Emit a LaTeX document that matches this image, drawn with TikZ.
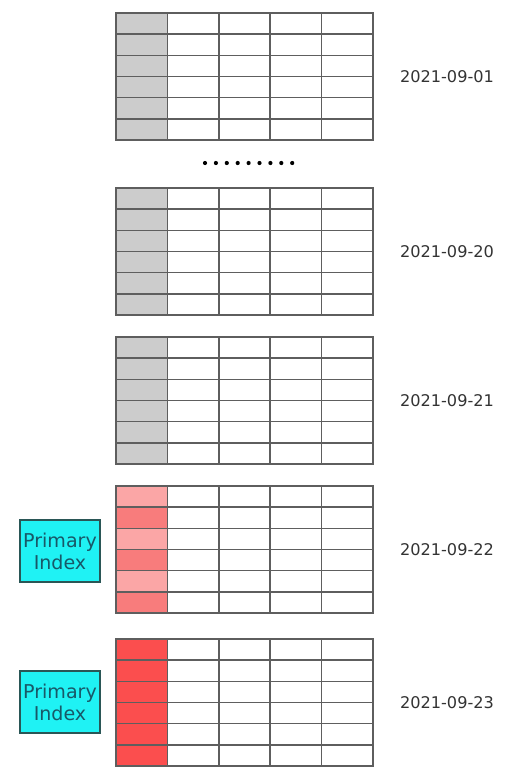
\documentclass[tikz,border=0pt]{standalone}
\usepackage{fontspec}
\setmainfont{DejaVu Sans}
\usepackage{xcolor}
\usetikzlibrary{positioning}
\definecolor{keygray}{HTML}{CCCCCC}
\definecolor{keypinkA}{HTML}{FBA6A6}
\definecolor{keypinkB}{HTML}{F87C7C}
\definecolor{keyred}{HTML}{FB4E4E}
\definecolor{gridgray}{HTML}{5E5E5E}
\definecolor{dategray}{HTML}{333333}
\definecolor{indexcyan}{HTML}{1FF2F4}
\definecolor{indexedge}{HTML}{2A5656}
\definecolor{indextext}{HTML}{185868}
\tikzset{
  cellline/.style={draw=gridgray, line width=1.1pt},
  datelabel/.style={font={\fontsize{12.1pt}{14pt}\selectfont}, text=dategray},
  indexbox/.style={draw=indexedge, fill=indexcyan, line width=1.3pt,
    minimum width=60pt, minimum height=46.5pt, inner sep=0pt, align=center,
    text=indextext, font={\fontsize{14.3pt}{16.5pt}\selectfont}}
}

\begin{document}
\begin{tikzpicture}[x=0.75pt,y=-0.75pt,
partition/.pic={\draw[cellline] (0,0) rectangle (257,127);
\foreach \c in {1,...,4} \draw[cellline] (\c*51.4,0) -- (\c*51.4,127);
\foreach \r in {1,...,5} \draw[cellline] (0,\r*21.17) -- (257,\r*21.17);}
]
\useasboundingbox (0,0) rectangle (516,775);

\foreach \top/\ca/\cb/\day in {13/keygray/keygray/01,188/keygray/keygray/20,337/keygray/keygray/21,486/keypinkA/keypinkB/22,639/keyred/keyred/23}{
  \foreach \r in {0,2,4}{
    \fill[\ca] (116,\top+\r*21.17) rectangle (167.4,\top+\r*21.17+21.17);
    \fill[\cb] (116,\top+\r*21.17+21.17) rectangle (167.4,\top+\r*21.17+42.34);
  }
  \pic at (116,\top) {partition};
  \node[datelabel] (d\day) at (447,\top+63.5) {2021-09-\day};
}

% skipped partitions
\foreach \i in {0,...,8} \fill[black] (205+\i*10.9,163) circle (2.1);

\node[indexbox] (idx22) at (60,551) {Primary\\Index};
\node[indexbox] (idx23) at (60,702) {Primary\\Index};

\end{tikzpicture}
\end{document}
